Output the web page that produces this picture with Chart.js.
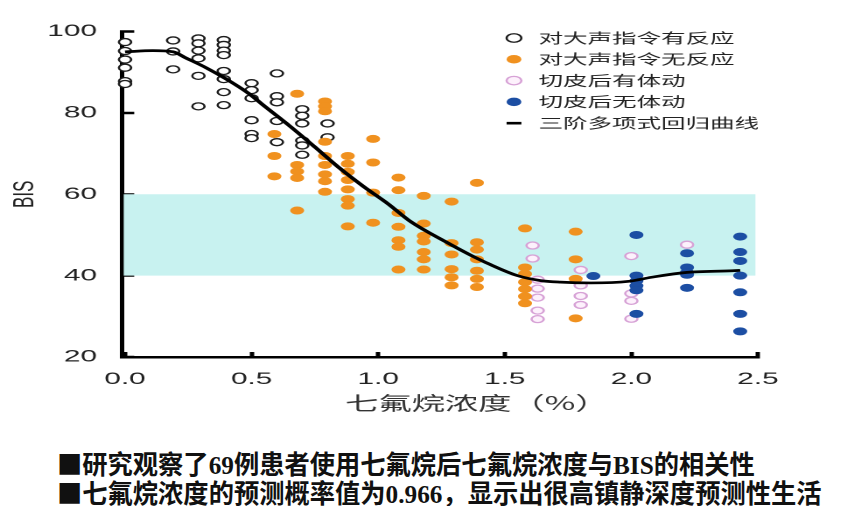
<!DOCTYPE html>
<html>
<head>
<meta charset="utf-8">
<script src="https://cdn.jsdelivr.net/npm/chart.js@4.4.1/dist/chart.umd.min.js"></script>
<style>
body { margin: 0; background: #fff; width: 861px; height: 506px; overflow: hidden; position: relative; }
#wrap { position: absolute; left: 0; top: 0; width: 492px; height: 440px; transform: scaleX(1.75); transform-origin: 0 0; }
.note { position: absolute; left: 57px; font-family: "Noto Sans CJK SC"; font-weight: 700; font-size: 26px; line-height: 30px; color: #111; white-space: nowrap; transform: scaleX(0.972); transform-origin: 0 0; }
.note span { font-family: "Liberation Serif"; font-weight: 700; }
</style>
</head>
<body>
<div id="wrap"><canvas id="bisChart" width="492" height="440"></canvas></div>
<div class="note" style="top:448px">■研究观察了<span>69</span>例患者使用七氟烷后七氟烷浓度与<span>BIS</span>的相关性</div>
<div class="note" style="top:477px">■七氟烷浓度的预测概率值为<span>0.966</span>，显示出很高镇静深度预测性生活</div>
<script>
const xTicks = [0, 0.5, 1.0, 1.5, 2.0, 2.5];
const yTicks = [20, 40, 60, 80, 100];
const bandLow = 40;
const bandHigh = 60;

const seriesNames = ["对大声指令有反应", "对大声指令无反应", "切皮后有体动", "切皮后无体动", "三阶多项式回归曲线"];

// concentration columns and the BIS values read in each column
const respondX = [0, 0.19, 0.29, 0.39, 0.5, 0.6, 0.7, 0.8];
const respondY = [
    [97.4, 95.2, 93.1, 91.1, 87.8, 87.1],
    [97.8, 95.1, 90.7],
    [98.3, 97.1, 95.3, 93.4, 89.1, 81.6],
    [97.9, 96.7, 95.3, 94.2, 90.3, 88.3, 85.1, 81.9],
    [87.3, 85.6, 83.6, 78.2, 74.8, 73.8],
    [89.7, 84.1, 82.6, 78.0, 72.8],
    [80.9, 79.3, 77.4, 73.2, 72.0, 69.7],
    [77.4, 74.0]
];

const noRespX = [0.59, 0.68, 0.79, 0.88, 0.98, 1.08, 1.18, 1.29, 1.39, 1.58, 1.78];
const noRespY = [
    [74.8, 69.4, 64.4],
    [84.7, 67.2, 65.6, 64.0, 56.0],
    [82.8, 81.6, 80.4, 72.9, 69.4, 67.2, 64.9, 63.2, 60.6],
    [69.4, 67.5, 65.5, 63.5, 61.2, 58.8, 57.2, 52.1],
    [73.6, 67.8, 60.4, 53.0],
    [64.1, 61.0, 55.4, 52.0, 48.7, 47.1, 41.5],
    [59.6, 52.8, 49.8, 48.4, 45.8, 44.0, 41.5],
    [58.2, 48.0, 45.2, 41.6, 39.6, 37.6],
    [62.8, 48.2, 46.4, 44.0, 41.2, 39.2, 37.2],
    [51.6, 42.0, 40.4, 38.4, 36.7, 34.9, 33.2],
    [50.8, 44.0, 39.2, 29.5]
];

const moveX = [1.61, 1.63, 1.8, 2.0, 2.22];
const moveY = [
    [47.4, 44.2],
    [39.0, 36.8, 34.6, 31.4, 29.3],
    [41.4, 37.6, 35.0, 32.8],
    [44.8, 35.6, 33.8, 29.4],
    [47.6]
];

const noMoveX = [1.85, 2.02, 2.22, 2.43];
const noMoveY = [
    [39.9],
    [50.0, 40.0, 38.7, 37.5, 36.4, 30.6],
    [45.5, 42.0, 40.8, 40.2, 37.0],
    [49.6, 45.8, 43.6, 40.0, 35.9, 30.6, 26.3]
];

// regression curve
const curveX = [0, 0.11, 0.19, 0.24, 0.32, 0.40, 0.49, 0.55, 0.65, 0.75, 0.84, 0.94, 1.04, 1.13, 1.27, 1.36, 1.44, 1.55, 1.64, 1.72, 1.84, 1.99, 2.08, 2.22, 2.40, 2.43];
const curveY = [95.0, 95.3, 95.0, 93.5, 91.1, 88.3, 84.7, 81.7, 76.8, 71.6, 66.8, 62.0, 57.6, 53.2, 48.2, 45.2, 42.8, 40.0, 38.8, 38.4, 38.2, 38.6, 39.6, 40.8, 41.2, 41.3];

function toPoints(xs, ys) {
    let pts = [];
    xs.forEach((x, i) => ys[i].forEach(y => pts.push({x: x, y: y})));
    return pts;
}

const bandPlugin = {
    id: "band",
    beforeDatasetsDraw(chart) {
        const {ctx, chartArea, scales} = chart;
        const top = scales.y.getPixelForValue(bandHigh);
        const bottom = scales.y.getPixelForValue(bandLow);
        const right = scales.x.getPixelForValue(2.49);
        ctx.save();
        ctx.fillStyle = "#c8f2f0";
        ctx.fillRect(chartArea.left + 1, top, right - chartArea.left - 1, bottom - top);
        ctx.restore();
    }
};

// put the legend box in the upper right of the plot
const legendSpot = {
    id: "legendSpot",
    afterLayout(chart) {
        chart.legend.left = 279.4;
        chart.legend.top = 23.7;
    }
};

Chart.defaults.font.family = '"Liberation Sans", Arial, sans-serif';

new Chart(document.getElementById("bisChart"), {
    type: "scatter",
    data: {
        datasets: [
            {
                label: seriesNames[0],
                data: toPoints(respondX, respondY),
                pointRadius: 3.5,
                borderWidth: 1.3,
                borderColor: "#1c1c1c",
                backgroundColor: "#ffffff",
                clip: false,
                order: 3
            },
            {
                label: seriesNames[1],
                data: toPoints(noRespX, noRespY),
                pointRadius: 4,
                borderWidth: 0,
                borderColor: "#f0911f",
                backgroundColor: "#f0911f",
                clip: false,
                order: 1
            },
            {
                label: seriesNames[2],
                data: toPoints(moveX, moveY),
                pointRadius: 3.5,
                borderWidth: 1.3,
                borderColor: "#d7a2d6",
                backgroundColor: "#fdf1fc",
                clip: false,
                order: 4
            },
            {
                label: seriesNames[3],
                data: toPoints(noMoveX, noMoveY),
                pointRadius: 4,
                borderWidth: 0,
                borderColor: "#1c4ea3",
                backgroundColor: "#1c4ea3",
                clip: false,
                order: 2
            },
            {
                type: "line",
                label: seriesNames[4],
                data: curveX.map((x, i) => ({x: x, y: curveY[i]})),
                borderColor: "#000",
                backgroundColor: "#000",
                borderWidth: 2.7,
                pointRadius: 0,
                pointStyle: "line",
                cubicInterpolationMode: "monotone",
                fill: false,
                order: 0
            }
        ]
    },
    options: {
        responsive: false,
        animation: false,
        devicePixelRatio: 2,
        events: [],
        layout: { padding: { left: 0, right: 58.9, top: 23, bottom: 13 } },
        plugins: {
            tooltip: { enabled: false },
            legend: {
                position: "chartArea",
                align: "start",
                labels: {
                    usePointStyle: true,
                    boxWidth: 14,
                    boxHeight: 6,
                    padding: 7.3,
                    color: "#222",
                    font: { family: '"Noto Sans CJK SC"', size: 14 },
                    sort: (a, b) => a.datasetIndex - b.datasetIndex
                }
            }
        },
        scales: {
            x: {
                type: "linear",
                min: -0.012,
                max: 2.5,
                afterBuildTicks: s => { s.ticks = xTicks.map(v => ({value: v})); },
                afterFit: s => { s.height = 70; },
                border: { display: true, color: "#000", width: 2.5 },
                grid: { display: true, drawOnChartArea: false, drawTicks: true, tickLength: -5, tickWidth: 2.5, tickColor: "#000" },
                ticks: { padding: 17, color: "#222", font: { size: 17 }, callback: v => v.toFixed(1) },
                title: {
                    display: true,
                    text: "\u3000\u3000 七氟烷浓度（%）",
                    color: "#333",
                    font: { family: '"Noto Sans CJK SC"', size: 19 },
                    padding: { top: 13, bottom: 13 }
                }
            },
            y: {
                min: 20,
                max: 100,
                afterBuildTicks: s => { s.ticks = yTicks.map(v => ({value: v})); },
                afterFit: s => { s.width = 69.7; },
                border: { display: true, color: "#000", width: 2.5 },
                grid: { display: true, drawOnChartArea: false, drawTicks: true, tickLength: -7, tickWidth: 2.5, tickColor: "#000" },
                ticks: { padding: 21.3, color: "#222", font: { size: 17 } },
                title: {
                    display: true,
                    text: "BIS",
                    color: "#222",
                    font: { size: 17 },
                    padding: 4
                }
            }
        }
    },
    plugins: [bandPlugin, legendSpot]
});
</script>
</body>
</html>
